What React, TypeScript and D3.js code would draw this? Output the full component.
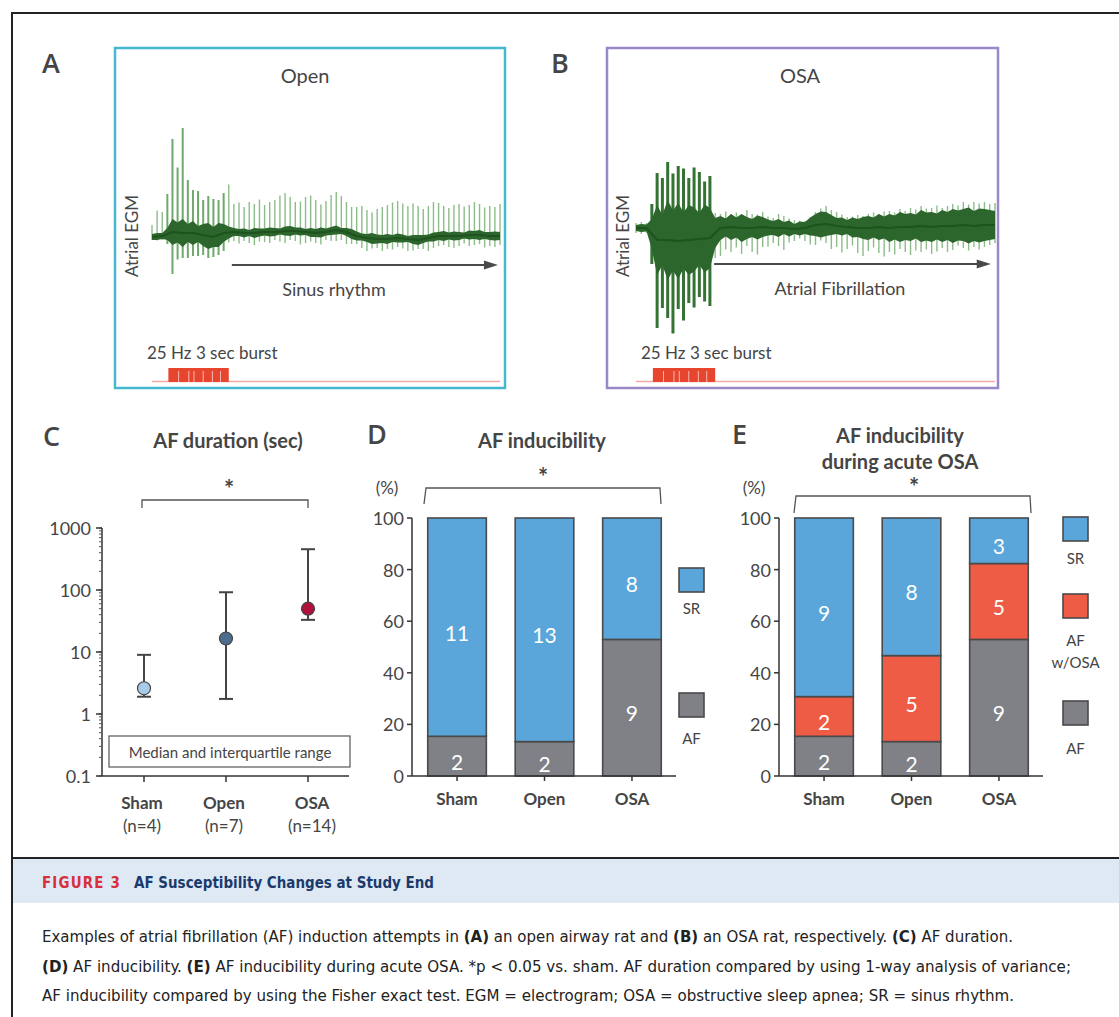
import React from 'react';
import * as d3 from 'd3';

const FONT = "Lato, 'Open Sans', sans-serif";
const CAPTION_FONT = "'Liberation Sans Narrow', 'DejaVu Sans Condensed', sans-serif";
const INK = '#454545';

// ---- EGM traces (A, B): spikes / dark core every 0.25 s, baseline every 0.5 s ----
const egmSeconds = 17;
const spikeStep = 0.25;
const bandStep = 0.5;
const burstStart = 0.8;
const burstEnd = 3.75;
const burstGaps = [1.3, 1.8, 2.05, 2.5, 2.95, 3.35];

const openUp = [
  1.2, 2.6, 2.4, 4.0, 9.3, 6.5, 10.5, 5.3, 4.3, 4.3, 3.5, 4.0, 3.8, 3.5, 4.0, 4.8,
  2.8, 3.0, 2.6, 3.1, 2.9, 3.3, 2.7, 3.0, 3.2, 3.6,
  3.8, 3.4, 2.9, 3.0, 3.5, 3.7, 3.3, 2.8, 3.1, 3.6,
  3.8, 3.5, 3.0, 2.7, 2.9, 3.1, 2.8, 2.6, 3.0, 3.2,
  3.4, 3.6, 3.7, 3.5, 3.3, 3.6, 3.4, 3.0, 3.2, 3.5,
  3.3, 3.0, 2.8, 3.1, 3.2, 2.9, 3.0, 3.3, 3.1, 2.8,
  3.0, 2.9, 3.2,
];
const openDown = [
  -0.3, -0.4, -0.4, -1.0, -4.2, -2.7, -2.5, -2.5, -2.3, -2.2, -2.0, -2.2, -2.0, -2.0, -1.8, -1.0,
  -0.9, -1.1, -0.8, -1.0, -1.2, -0.9, -1.0, -1.1, -0.8, -1.0,
  -1.2, -0.9, -1.0, -1.3, -1.1, -0.9, -1.0, -1.2, -0.8, -1.0,
  -1.1, -0.9, -1.2, -1.0, -0.8, -1.1, -1.3, -1.0, -0.9, -1.2,
  -1.0, -1.1, -0.9, -1.0, -1.2, -1.1, -0.9, -1.0, -1.3, -1.1,
  -1.0, -0.9, -1.1, -1.2, -1.0, -0.8, -1.1, -1.0, -0.9, -1.2,
  -1.0, -1.1, -0.9,
];
const openCore = [
  0.3, 0.35, 0.3, 0.6, 1.3, 1.0, 1.4, 0.9, 1.2, 0.8, 1.1, 1.3, 1.0, 1.2, 0.9, 0.6,
  0.4, 0.35, 0.45, 0.3, 0.5, 0.4, 0.35, 0.45, 0.4, 0.3,
  0.45, 0.5, 0.35, 0.4, 0.3, 0.45, 0.4, 0.5, 0.35, 0.4,
  0.45, 0.3, 0.4, 0.5, 0.45, 0.35, 0.4, 0.55, 0.45, 0.4,
  0.5, 0.35, 0.45, 0.4, 0.3, 0.45, 0.5, 0.4, 0.35, 0.45,
  0.4, 0.5, 0.35, 0.45, 0.4, 0.3, 0.45, 0.4, 0.5, 0.35,
  0.4, 0.45, 0.4,
];
const openBase = [
  -0.2, -0.1, 0.3, 0.2, 0.2, 0.0, -0.2, 0.2, 0.3, 0.2, 0.2, 0.3, 0.3, 0.4, 0.4, 0.3, 0.2, 0.3,
  0.5, 0.3, -0.1, -0.3, -0.4, -0.4, -0.3, -0.4, -0.5, -0.3, -0.1, -0.1, -0.1, 0.0, 0.0, -0.1, -0.1,
];

const osaUp = [
  0.5, 0.6, 0.5, 3.0, 6.7, 6.2, 7.8, 6.7, 7.5, 7.2, 6.2, 7.2, 6.7, 5.7, 6.2, 2.0,
  1.4, 1.6, 1.3, 1.5, 1.2, 1.8, 1.4, 1.3, 1.5, 1.1,
  1.0, 1.4, 1.2, 1.0, 0.9, 0.8, 0.7, 0.9, 1.3, 1.6,
  1.8, 1.5, 1.4, 1.2, 1.0, 1.1, 1.3, 1.2, 1.4, 1.5,
  1.3, 1.6, 1.7, 1.5, 1.8, 1.6, 1.9, 1.7, 2.0, 1.8,
  1.9, 2.1, 1.8, 2.0, 2.2, 2.0, 2.3, 2.1, 2.4, 2.2,
  2.3, 2.1, 2.2,
];
const osaDown = [
  -0.5, -0.6, -0.5, -3.0, -8.8, -6.8, -7.8, -9.3, -6.8, -8.0, -6.3, -6.8, -5.8, -6.3, -6.8, -2.5,
  -2.8, -2.2, -2.5, -2.0, -2.6, -1.8, -2.4, -2.7, -2.0, -1.9,
  -1.5, -1.8, -2.2, -1.4, -1.2, -1.0, -1.3, -1.8, -2.0, -1.6,
  -1.9, -2.4, -2.1, -2.6, -2.2, -1.8, -2.5, -2.8, -2.3, -2.0,
  -2.6, -2.9, -2.4, -2.7, -2.2, -2.5, -2.8, -2.4, -2.6, -2.3,
  -2.7, -2.5, -2.2, -2.6, -2.4, -2.0, -2.3, -2.5, -2.1, -2.4,
  -2.2, -2.0, -1.8,
];
const osaCore = [
  0.3, 0.4, 0.35, 1.5, 3.5, 2.5, 4.0, 3.0, 3.8, 2.8, 3.5, 3.2, 2.6, 3.4, 3.0, 1.5,
  1.2, 0.9, 1.3, 1.0, 1.4, 1.1, 0.9, 1.2, 1.0, 0.8,
  0.7, 0.9, 0.6, 0.8, 0.5, 0.7, 0.6, 0.9, 1.1, 1.3,
  1.2, 1.0, 0.8, 0.9, 0.7, 1.0, 0.9, 1.1, 1.2, 1.0,
  1.3, 1.1, 1.4, 1.2, 1.5, 1.3, 1.4, 1.2, 1.6, 1.4,
  1.5, 1.3, 1.6, 1.4, 1.7, 1.5, 1.6, 1.8, 1.5, 1.7,
  1.6, 1.5, 1.4,
];
const osaBase = [
  0, 0, -1.2, -1.2, -1.3, -1.2, -1.1, -1.0, 0, 0.1, 0, 0, 0.1, 0, 0, -0.1, 0, 0.3,
  0.4, 0.2, 0.1, 0, 0, 0.1, 0, 0.1, 0.1, 0.2, 0.1, 0.2, 0.2, 0.3, 0.2, 0.3, 0.3,
];

// ---- Panel C: AF duration ----
const groups = ['Sham', 'Open', 'OSA'];
const groupN = [4, 7, 14];
const durMedian = [2.6, 16.5, 50];
const durQ1 = [1.9, 1.75, 33];
const durQ3 = [9, 92, 455];
const durTicks = [0.1, 1, 10, 100, 1000];
const durColors = ['#a9cbea', '#4d6d8e', '#b0103a'];

// ---- Panel D: AF inducibility (counts) ----
const inducAF = [2, 2, 9];
const inducSR = [11, 13, 8];

// ---- Panel E: AF inducibility during acute OSA (counts) ----
const acuteAF = [2, 2, 9];
const acuteAFwOSA = [2, 5, 5];
const acuteSR = [9, 8, 3];

const pctTicks = [0, 20, 40, 60, 80, 100];
const BLUE = '#5aa5d9';
const GRAY = '#808186';
const RED = '#ef5c46';

const interpAt = (arr: number[], t: number, step: number) => {
  const i = t / step;
  const i0 = Math.min(arr.length - 1, Math.floor(i));
  const i1 = Math.min(arr.length - 1, i0 + 1);
  return arr[i0] + (arr[i1] - arr[i0]) * (i - i0);
};

type EgmProps = {
  left: number; right: number; baseY: number;
  up: number[]; down: number[]; base: number[]; core: number[];
  burstSpikes: string; burstWidth: number;
  arrowFrom: number; arrowTo: number; arrowY: number;
  rhythm: string; rhythmX: number; burstLabelX: number;
};

function Egm(p: EgmProps) {
  const x = d3.scaleLinear().domain([0, egmSeconds]).range([p.left, p.right]);
  const y = d3.scaleLinear().domain([-1, 1]).range([p.baseY + 10, p.baseY - 10]);
  const baseAt = (t: number) => interpAt(p.base, t, bandStep);
  const spikeT = p.up.map((_, i) => i * spikeStep);
  const inBurst = (t: number) => t >= burstStart - 0.1 && t <= burstEnd - 0.1;

  const coreArea = d3.area<number>()
    .x(t => x(t))
    .y0((t, i) => y(baseAt(t) - p.core[i]))
    .y1((t, i) => y(baseAt(t) + p.core[i]));
  const baseLine = d3.line<number>().x(t => x(t)).y(t => y(baseAt(t)));
  const ax2 = x(p.arrowTo);

  return (
    <g>
      {spikeT.map((t, i) => (
        <line key={i} x1={x(t)} x2={x(t)} y1={y(baseAt(t) + p.down[i])} y2={y(baseAt(t) + p.up[i])}
          stroke={inBurst(t) ? p.burstSpikes : '#8cbd89'} strokeWidth={inBurst(t) ? p.burstWidth : 1.4} />
      ))}
      <path d={coreArea(spikeT) || ''} fill="#2c662c" />
      <path d={baseLine(spikeT) || ''} fill="none" stroke="#1e521e" strokeWidth={2} />

      <line x1={x(p.arrowFrom)} x2={ax2 - 8} y1={p.arrowY} y2={p.arrowY} stroke="#4a4a4a" strokeWidth={2} />
      <polygon points={`${ax2},${p.arrowY} ${ax2 - 14},${p.arrowY - 4.5} ${ax2 - 14},${p.arrowY + 4.5}`} fill="#4a4a4a" />
      <text x={p.rhythmX} y={p.arrowY + 24} textAnchor="middle" dominantBaseline="central" fontSize={18} fill={INK}>{p.rhythm}</text>

      <text x={p.burstLabelX} y={352} dominantBaseline="central" fontSize={17} fill={INK}>25 Hz 3 sec burst</text>
      <line x1={x(0)} x2={x(egmSeconds)} y1={381.5} y2={381.5} stroke="#f2aba3" strokeWidth={1.5} />
      <rect x={x(burstStart)} y={368} width={x(burstEnd) - x(burstStart)} height={14} fill="#e8452f" />
      {burstGaps.map((t, i) => (
        <line key={i} x1={x(t)} x2={x(t)} y1={371} y2={382} stroke="#fff" strokeWidth={0.8} opacity={0.8} />
      ))}
    </g>
  );
}

function DurationPanel() {
  const y = d3.scaleLog().domain([0.1, 1000]).range([776, 528]);
  const x = d3.scalePoint<string>().domain(groups).range([144, 308]);
  const minor = y.ticks();
  return (
    <g>
      <text x={228} y={440} textAnchor="middle" dominantBaseline="central" fontSize={20} fontWeight={700} fill={INK}>AF duration (sec)</text>
      <text x={229} y={488} textAnchor="middle" dominantBaseline="central" fontSize={24} fontWeight={700} fill={INK}>*</text>
      <path d="M142,508 L142,500 L308,500 L308,508" fill="none" stroke="#555" strokeWidth={1.3} />

      <line x1={102} x2={102} y1={y(1000)} y2={y(0.1)} stroke="#333" strokeWidth={1.5} />
      {minor.map((v, i) => (
        <line key={i} x1={99} x2={102} y1={y(v)} y2={y(v)} stroke="#555" strokeWidth={1} />
      ))}
      {durTicks.map(v => (
        <g key={v}>
          <line x1={96} x2={102} y1={y(v)} y2={y(v)} stroke="#333" strokeWidth={1.5} />
          <text x={91} y={y(v)} textAnchor="end" dominantBaseline="central" fontSize={18} fill={INK}>{String(v)}</text>
        </g>
      ))}
      <line x1={102} x2={349} y1={776} y2={776} stroke="#333" strokeWidth={1.5} />
      {groups.map((g, i) => (
        <g key={g}>
          <line x1={x(g)} x2={x(g)} y1={776} y2={782} stroke="#333" strokeWidth={1.5} />
          <text x={(x(g) || 0) + (i === 2 ? 4 : -2)} y={802} textAnchor="middle" dominantBaseline="central" fontSize={17} fontWeight={700} fill={INK}>{g}</text>
          <text x={(x(g) || 0) + (i === 2 ? 4 : -2)} y={825} textAnchor="middle" dominantBaseline="central" fontSize={17} fill={INK}>{`(n=${groupN[i]})`}</text>
        </g>
      ))}

      <rect x={109} y={736} width={241} height={31} fill="#fff" stroke="#555" strokeWidth={1.2} />
      <text x={230} y={752} textAnchor="middle" dominantBaseline="central" fontSize={15} fill={INK}>Median and interquartile range</text>

      {groups.map((g, i) => {
        const cx = x(g) || 0;
        return (
          <g key={g}>
            <line x1={cx} x2={cx} y1={y(durQ1[i])} y2={y(durQ3[i])} stroke="#444" strokeWidth={2} />
            <line x1={cx - 7} x2={cx + 7} y1={y(durQ1[i])} y2={y(durQ1[i])} stroke="#444" strokeWidth={2} />
            <line x1={cx - 7} x2={cx + 7} y1={y(durQ3[i])} y2={y(durQ3[i])} stroke="#444" strokeWidth={2} />
            <circle cx={cx} cy={y(durMedian[i])} r={6.5} fill={durColors[i]} stroke="#444" strokeWidth={1.2} />
          </g>
        );
      })}
    </g>
  );
}

type StackProps = {
  left: number; right: number;
  keys: string[]; counts: number[][]; colors: string[];
  legend: { key: string; box: number; lines: string[]; lineY: number[] }[];
  legendX: number;
};

function StackPanel(p: StackProps) {
  const rows = groups.map((g, i) => {
    const r: Record<string, number | string> = { group: g };
    p.keys.forEach((k, j) => { r[k] = p.counts[j][i]; });
    return r;
  });
  const series = d3.stack<Record<string, number | string>>()
    .keys(p.keys)
    .value((d, k) => d[k] as number)
    .offset(d3.stackOffsetExpand)(rows);
  const y = d3.scaleLinear().domain([0, 1]).range([776, 518]);
  const yPct = d3.scaleLinear().domain([0, 100]).range([776, 518]);
  const x = d3.scaleBand<string>().domain(groups).range([p.left, p.right]).paddingInner(0.33).paddingOuter(0.18);
  const color = d3.scaleOrdinal<string, string>().domain(p.keys).range(p.colors);

  return (
    <g>
      {series.map((s, j) => s.map((d, i) => {
        const g = groups[i];
        const y0 = y(d[0]);
        const y1 = y(d[1]);
        return (
          <g key={`${j}-${i}`}>
            <rect x={x(g)} y={y1} width={x.bandwidth()} height={y0 - y1} fill={color(p.keys[j])} stroke="#4a4a4a" strokeWidth={1.6} />
            <text x={(x(g) || 0) + x.bandwidth() / 2} y={(y0 + y1) / 2 + 5} textAnchor="middle" dominantBaseline="central" fontSize={21} fill="#fff">{p.counts[j][i]}</text>
          </g>
        );
      }))}

      <line x1={p.left} x2={p.left} y1={518} y2={776} stroke="#333" strokeWidth={1.5} />
      {pctTicks.map(v => (
        <g key={v}>
          <line x1={p.left - 5} x2={p.left} y1={yPct(v)} y2={yPct(v)} stroke="#333" strokeWidth={1.5} />
          <text x={p.left - 8} y={yPct(v)} textAnchor="end" dominantBaseline="central" fontSize={18} fill={INK}>{v}</text>
        </g>
      ))}
      <line x1={p.left} x2={p.right - 1} y1={776} y2={776} stroke="#333" strokeWidth={1.5} />
      {groups.map(g => {
        const cx = (x(g) || 0) + x.bandwidth() / 2;
        return (
          <g key={g}>
            <line x1={cx} x2={cx} y1={776} y2={781} stroke="#333" strokeWidth={1.5} />
            <text x={cx} y={798} textAnchor="middle" dominantBaseline="central" fontSize={17} fontWeight={700} fill={INK}>{g}</text>
          </g>
        );
      })}

      {p.legend.map(l => (
        <g key={l.key}>
          <rect x={p.legendX} y={l.box} width={25} height={24} fill={color(l.key)} stroke="#4a4a4a" strokeWidth={1.6} />
          {l.lines.map((t, k) => (
            <text key={k} x={p.legendX + 12.5} y={l.lineY[k]} textAnchor="middle" dominantBaseline="central" fontSize={15} fill={INK}>{t}</text>
          ))}
        </g>
      ))}
    </g>
  );
}

const LETTER = { fontFamily: "'Open Sans', Lato, sans-serif", fontSize: 27, fontWeight: 600, fill: INK } as const;

export default function App() {
  return (
    <div style={{ position: 'absolute', left: 0, top: 0 }}>
      <svg width={1119} height={1017} style={{ display: 'block', background: '#fff' }} fontFamily={FONT}>
        {/* frame */}
        <line x1={12} x2={1119} y1={13} y2={13} stroke="#222" strokeWidth={2} />
        <line x1={12} x2={12} y1={12} y2={1017} stroke="#222" strokeWidth={2} />

        {/* panel letters */}
        <text x={42} y={62} dominantBaseline="central" {...LETTER}>A</text>
        <text x={551} y={62} dominantBaseline="central" {...LETTER}>B</text>
        <text x={43} y={435} dominantBaseline="central" {...LETTER}>C</text>
        <text x={367} y={433} dominantBaseline="central" {...LETTER}>D</text>
        <text x={732} y={433} dominantBaseline="central" {...LETTER}>E</text>

        {/* A */}
        <rect x={115} y={48} width={390} height={340} fill="#fff" stroke="#45b8d0" strokeWidth={2.5} />
        <text x={305} y={75} textAnchor="middle" dominantBaseline="central" fontSize={20} fill={INK}>Open</text>
        <text transform="translate(131,236) rotate(-90)" textAnchor="middle" dominantBaseline="central" fontSize={17} fill={INK}>Atrial EGM</text>
        <Egm left={152} right={500} baseY={235} up={openUp} down={openDown} base={openBase} core={openCore}
          burstSpikes="#6fa86c" burstWidth={2} arrowFrom={3.9} arrowTo={16.9} arrowY={265} rhythm="Sinus rhythm" rhythmX={334} burstLabelX={147} />

        {/* B */}
        <rect x={607} y={48} width={391} height={340} fill="#fff" stroke="#9a89c9" strokeWidth={2.5} />
        <text x={800} y={75} textAnchor="middle" dominantBaseline="central" fontSize={20} fill={INK}>OSA</text>
        <text transform="translate(622,236) rotate(-90)" textAnchor="middle" dominantBaseline="central" fontSize={17} fill={INK}>Atrial EGM</text>
        <Egm left={636} right={995} baseY={228} up={osaUp} down={osaDown} base={osaBase} core={osaCore}
          burstSpikes="#357334" burstWidth={3} arrowFrom={3.7} arrowTo={16.8} arrowY={264} rhythm="Atrial Fibrillation" rhythmX={840} burstLabelX={641} />

        {/* C */}
        <DurationPanel />

        {/* D */}
        <text x={542} y={440} textAnchor="middle" dominantBaseline="central" fontSize={20} fontWeight={700} fill={INK}>AF inducibility</text>
        <text x={543} y={476} textAnchor="middle" dominantBaseline="central" fontSize={24} fontWeight={700} fill={INK}>*</text>
        <text x={387} y={487} textAnchor="middle" dominantBaseline="central" fontSize={17} fill={INK}>(%)</text>
        <path d="M424,504 L426,488 L660,488 L661,504" fill="none" stroke="#555" strokeWidth={1.3} />
        <StackPanel left={412} right={677} keys={['AF', 'SR']} counts={[inducAF, inducSR]} colors={[GRAY, BLUE]}
          legendX={679}
          legend={[
            { key: 'SR', box: 568, lines: ['SR'], lineY: [608] },
            { key: 'AF', box: 693, lines: ['AF'], lineY: [738] },
          ]} />

        {/* E */}
        <text x={900} y={435} textAnchor="middle" dominantBaseline="central" fontSize={20} fontWeight={700} fill={INK}>AF inducibility</text>
        <text x={900} y={461} textAnchor="middle" dominantBaseline="central" fontSize={20} fontWeight={700} fill={INK}>during acute OSA</text>
        <text x={914} y={486} textAnchor="middle" dominantBaseline="central" fontSize={24} fontWeight={700} fill={INK}>*</text>
        <text x={754} y={487} textAnchor="middle" dominantBaseline="central" fontSize={17} fill={INK}>(%)</text>
        <path d="M794,513 L796,496 L1030,496 L1031,513" fill="none" stroke="#555" strokeWidth={1.3} />
        <StackPanel left={779} right={1044} keys={['AF', 'AFwOSA', 'SR']} counts={[acuteAF, acuteAFwOSA, acuteSR]} colors={[GRAY, RED, BLUE]}
          legendX={1063}
          legend={[
            { key: 'SR', box: 517, lines: ['SR'], lineY: [558] },
            { key: 'AFwOSA', box: 594, lines: ['AF', 'w/OSA'], lineY: [640, 662] },
            { key: 'AF', box: 701, lines: ['AF'], lineY: [748] },
          ]} />

        {/* caption */}
        <rect x={13} y={858} width={1106} height={45} fill="#dfe9f4" />
        <line x1={12} x2={1119} y1={858} y2={858} stroke="#222" strokeWidth={2} />
        <text x={42} y={883} fontFamily={CAPTION_FONT} fontSize={15} fontWeight={700} fill="#d7303b" letterSpacing={1.2} textLength={79} lengthAdjust="spacingAndGlyphs" dominantBaseline="central">FIGURE 3</text>
        <text x={134} y={883} fontFamily={CAPTION_FONT} fontSize={15} fontWeight={700} fill="#1b3a6c" textLength={300} lengthAdjust="spacingAndGlyphs" dominantBaseline="central">AF Susceptibility Changes at Study End</text>

        <g fontFamily={CAPTION_FONT} fontSize={15.5} fill="#222">
          <text x={42} y={937} dominantBaseline="central" textLength={971} lengthAdjust="spacingAndGlyphs">
            Examples of atrial fibrillation (AF) induction attempts in <tspan fontWeight={700}>(A)</tspan> an open airway rat and <tspan fontWeight={700}>(B)</tspan> an OSA rat, respectively. <tspan fontWeight={700}>(C)</tspan> AF duration.
          </text>
          <text x={42} y={967} dominantBaseline="central" textLength={1029} lengthAdjust="spacingAndGlyphs">
            <tspan fontWeight={700}>(D)</tspan> AF inducibility. <tspan fontWeight={700}>(E)</tspan> {'AF inducibility during acute OSA. *p < 0.05 vs. sham. AF duration compared by using 1-way analysis of variance;'}
          </text>
          <text x={42} y={996} dominantBaseline="central" textLength={972} lengthAdjust="spacingAndGlyphs">
            AF inducibility compared by using the Fisher exact test. EGM = electrogram; OSA = obstructive sleep apnea; SR = sinus rhythm.
          </text>
        </g>
      </svg>
    </div>
  );
}
